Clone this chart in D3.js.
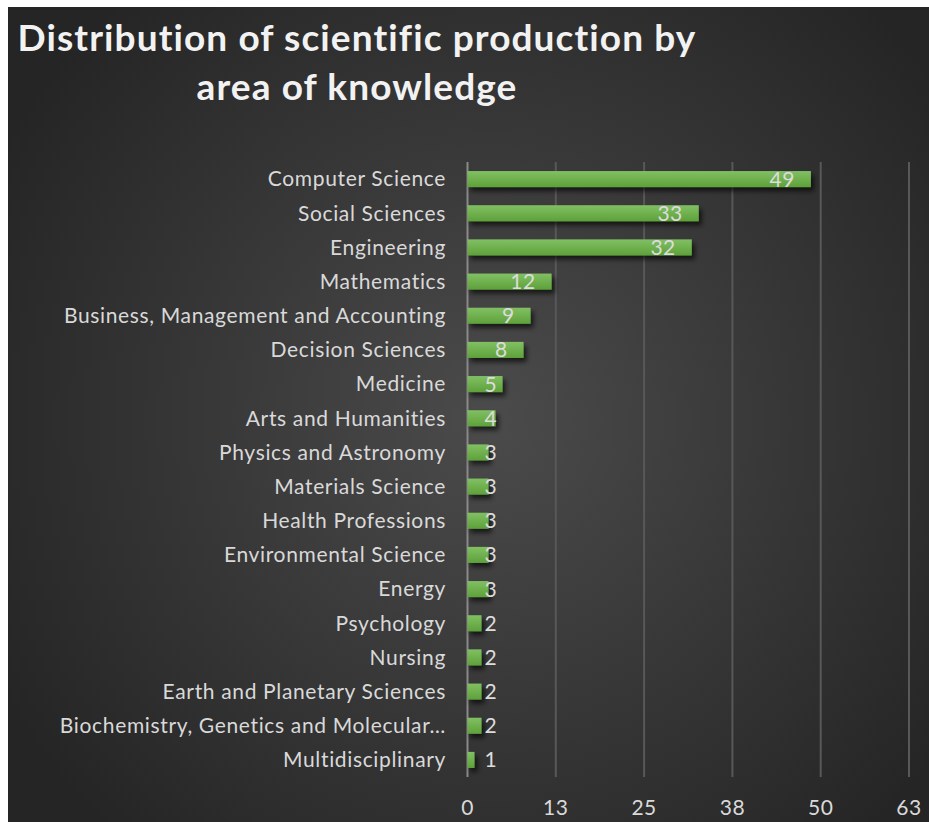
<!DOCTYPE html>
<html>
<head>
<meta charset="utf-8">
<script src="https://cdn.jsdelivr.net/npm/d3@7/dist/d3.min.js"></script>
<style>
  html, body { margin: 0; padding: 0; background: #ffffff; }
  svg { display: block; }
</style>
</head>
<body>
<svg id="chart" width="929" height="822"></svg>
<script>
const categories = ["Computer Science","Social Sciences","Engineering","Mathematics","Business, Management and Accounting","Decision Sciences","Medicine","Arts and Humanities","Physics and Astronomy","Materials Science","Health Professions","Environmental Science","Energy","Psychology","Nursing","Earth and Planetary Sciences","Biochemistry, Genetics and Molecular\u2026","Multidisciplinary"];
const values = [49,33,32,12,9,8,5,4,3,3,3,3,3,2,2,2,2,1];
const tickValues = [0,12.6,25.2,37.8,50.4,63];
const tickLabels = ["0","13","25","38","50","63"];
const titleLines = ["Distribution of scientific production by","area of knowledge"];

const svg = d3.select("#chart");
const W = 929, H = 822;
const font = "Lato, 'Open Sans', sans-serif";

const defs = svg.append("defs");
const rg = defs.append("radialGradient").attr("id","bg")
  .attr("gradientUnits","userSpaceOnUse")
  .attr("cx",490).attr("cy",420).attr("r",560);
rg.append("stop").attr("offset","0%").attr("stop-color","#4b4b4b");
rg.append("stop").attr("offset","100%").attr("stop-color","#252525");

const bg2 = defs.append("linearGradient").attr("id","bar").attr("x1",0).attr("y1",0).attr("x2",0).attr("y2",1);
bg2.append("stop").attr("offset","0%").attr("stop-color","#81c063");
bg2.append("stop").attr("offset","100%").attr("stop-color","#5ea13a");

const f = defs.append("filter").attr("id","shadow").attr("x","-20%").attr("y","-50%").attr("width","150%").attr("height","250%");
f.append("feDropShadow").attr("dx",3).attr("dy",4).attr("stdDeviation",2.5).attr("flood-color","#000").attr("flood-opacity",0.65);

svg.append("rect").attr("x",8).attr("y",7).attr("width",W-8).attr("height",H-7).attr("fill","url(#bg)");

// title
svg.append("g").selectAll("text").data(titleLines).join("text")
  .attr("x",357).attr("y",(d,i)=>51+i*49)
  .attr("text-anchor","middle")
  .attr("font-family",font).attr("font-weight","bold").attr("font-size",37)
  .attr("letter-spacing","1.1px")
  .attr("fill","#f2f2f2").text(d=>d);

const x = d3.scaleLinear().domain([0,63]).range([467.5,909]);
const y = d3.scaleBand().domain(categories).range([162,777]).paddingInner(0.53).paddingOuter(0.265);

// grid
svg.append("g").selectAll("line").data(tickValues).join("line")
  .attr("x1",d=>x(d)).attr("x2",d=>x(d)).attr("y1",162).attr("y2",777)
  .attr("stroke",(d,i)=>i===0?"#8a8a8a":"#585858").attr("stroke-width",2);

// x tick labels
svg.append("g").selectAll("text").data(tickValues).join("text")
  .attr("x",d=>x(d)).attr("y",815)
  .attr("text-anchor","middle").attr("font-family",font).attr("font-size",21)
  .attr("letter-spacing","0.5px")
  .attr("fill","#d9d9d9").text((d,i)=>tickLabels[i]);

// category labels
svg.append("g").selectAll("text").data(categories).join("text")
  .attr("x",446).attr("y",d=>y(d)+y.bandwidth()/2).attr("dy","0.35em")
  .attr("text-anchor","end").attr("font-family",font).attr("font-size",21)
  .attr("letter-spacing","0.65px")
  .attr("fill","#d9d9d9").text(d=>d);

// bars
svg.append("g").attr("filter","url(#shadow)").selectAll("rect").data(values).join("rect")
  .attr("x",x(0)).attr("y",(d,i)=>y(categories[i]))
  .attr("width",d=>x(d)-x(0)).attr("height",y.bandwidth())
  .attr("fill","url(#bar)");

// value labels
const vl = svg.append("g").selectAll("text").data(values).join("text")
  .attr("y",(d,i)=>y(categories[i])+y.bandwidth()/2).attr("dy","0.36em")
  .attr("text-anchor","end").attr("font-family",font).attr("font-size",21)
  .attr("letter-spacing","0.5px")
  .attr("fill","#dcdcdc").text(d=>d);
vl.each(function(d){
  const w = this.getComputedTextLength();
  const xe = Math.max(x(d)-16, x(0)+17+w);
  d3.select(this).attr("x", xe);
});
</script>
</body>
</html>
